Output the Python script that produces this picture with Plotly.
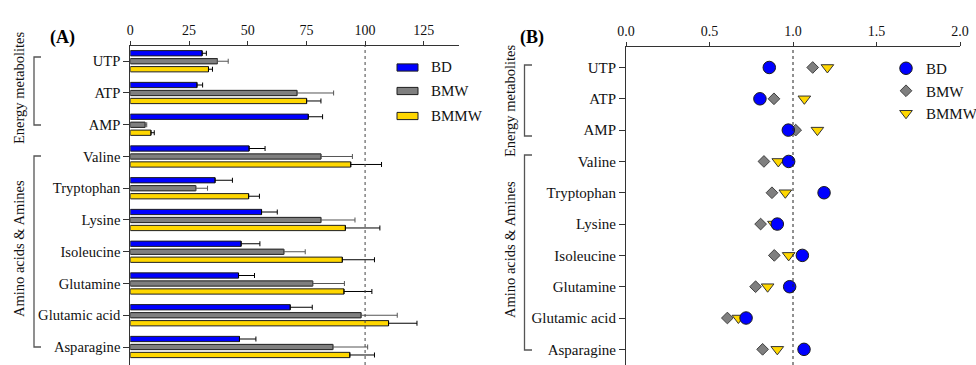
import plotly.graph_objects as go

# ---------------- data ----------------
categories = ["UTP", "ATP", "AMP", "Valine", "Tryptophan", "Lysine",
              "Isoleucine", "Glutamine", "Glutamic acid", "Asparagine"]
series_names = ["BD", "BMW", "BMMW"]

bd_pct = [30.6, 28.4, 75.8, 50.6, 36.1, 55.9, 47.2, 46.1, 68.1, 46.5]
bd_err = [1.8, 2.4, 6.1, 6.8, 7.4, 6.7, 8.0, 6.8, 9.4, 7.0]
bmw_pct = [37.1, 71.0, 6.3, 81.2, 27.9, 81.2, 65.4, 77.7, 98.3, 86.3]
bmw_err = [4.6, 15.6, 0.7, 13.4, 5.0, 14.5, 9.1, 13.5, 15.4, 14.8]
bmmw_pct = [33.3, 75.1, 8.8, 93.9, 50.4, 91.6, 90.3, 91.0, 110.0, 93.5]
bmmw_err = [1.7, 6.1, 1.4, 13.1, 4.6, 14.7, 13.7, 11.9, 12.1, 10.5]

bd_ratio = [0.858, 0.802, 0.972, 0.974, 1.186, 0.906, 1.056, 0.980, 0.719, 1.066]
bmw_ratio = [1.118, 0.886, 1.016, 0.826, 0.874, 0.806, 0.888, 0.776, 0.607, 0.818]
bmmw_ratio = [1.206, 1.068, 1.146, 0.912, 0.954, 0.886, 0.974, 0.848, 0.673, 0.906]

x_ticks_a = [0, 25, 50, 75, 100, 125]
x_ticks_b = [0.0, 0.5, 1.0, 1.5, 2.0]
ref_a = 100
ref_b = 1.0
group_labels = ["Energy metabolites", "Amino acids & Amines"]
panel_labels = ["(A)", "(B)"]

# ---------------- style ----------------
W, H = 976, 365
FONT = "Liberation Serif"
BLUE, GRAY, YELLOW = "#0000ff", "#7f7f7f", "#ffd700"
EDGE = "#1e1e1e"
AX = "#333333"


def px(x):
    return x / W


def py(y):
    return 1 - y / H


fig = go.Figure()

# ---- panel A bars ----
bar_specs = [(bd_pct, bd_err, BLUE, "#000000"),
             (bmw_pct, bmw_err, GRAY, "#555555"),
             (bmmw_pct, bmmw_err, YELLOW, "#000000")]
for name, (vals, errs, col, ecol) in zip(series_names, bar_specs):
    fig.add_trace(go.Bar(
        y=categories, x=vals, orientation="h", name=name,
        marker=dict(color=col, line=dict(color=EDGE, width=1)),
        error_x=dict(type="data", array=errs, arrayminus=[0] * len(errs),
                     symmetric=False, color=ecol, thickness=1, width=2.5),
        xaxis="x", yaxis="y", showlegend=False,
    ))

# ---- panel B markers (drawn BMW, BMMW, then BD on top) ----
fig.add_trace(go.Scatter(
    y=categories, x=bmw_ratio, mode="markers", name=series_names[1],
    marker=dict(symbol="diamond", size=9, color=GRAY, line=dict(color="#404040", width=1)),
    xaxis="x2", yaxis="y2", legend="legend2", legendrank=2, legendgroup="b"))
fig.add_trace(go.Scatter(
    y=categories, x=bmmw_ratio, mode="markers", name=series_names[2],
    marker=dict(symbol="triangle-down", size=11, color=YELLOW, line=dict(color="#333333", width=1)),
    xaxis="x2", yaxis="y2", legend="legend2", legendrank=3, legendgroup="c"))
fig.add_trace(go.Scatter(
    y=categories, x=bd_ratio, mode="markers", name=series_names[0],
    marker=dict(symbol="circle", size=12.5, color=BLUE, line=dict(color="#1a1a1a", width=1)),
    xaxis="x2", yaxis="y2", legend="legend2", legendrank=1, legendgroup="a"))

xtickfont = dict(family=FONT, size=14, color="#111111")

common_x = dict(side="top", ticks="outside", ticklen=4, tickwidth=1, tickcolor=AX,
                showline=True, linecolor=AX, linewidth=1, showgrid=False,
                zeroline=False, tickfont=xtickfont, fixedrange=True, automargin=False)
common_y = dict(type="category", categoryorder="array", categoryarray=categories,
                ticks="outside", ticklen=6, tickwidth=1, tickcolor=AX,
                showline=True, linecolor=AX, linewidth=1, showgrid=False,
                zeroline=False, fixedrange=True, automargin=False)

fig.update_layout(
    width=W, height=H, autosize=False,
    margin=dict(l=0, r=0, t=0, b=0, pad=0, autoexpand=False),
    paper_bgcolor="white", plot_bgcolor="white",
    font=dict(family=FONT),
    barmode="group", bargap=0.245, bargroupgap=0.34,
    xaxis=dict(domain=[px(130.3), px(459)], range=[0, 140], tickvals=x_ticks_a,
               anchor="y", **common_x),
    yaxis=dict(domain=[0, py(46)], range=[9.567, -0.48], anchor="x",
               tickfont=dict(family=FONT, size=14.6, color="#111111"), **common_y),
    xaxis2=dict(domain=[px(626), px(960)], range=[0, 2], tickvals=x_ticks_b,
                tickformat=".1f", anchor="y2", **common_x),
    yaxis2=dict(domain=[0, py(46.5)], range=[9.5, -0.67], anchor="x2",
                tickfont=dict(family=FONT, size=15, color="#111111"), **common_y),
    legend2=dict(x=px(886), y=py(52), xanchor="left", yanchor="top",
                 font=dict(family=FONT, size=15, color="#111111"),
                 bgcolor="rgba(0,0,0,0)", tracegroupgap=0, itemclick=False),
    showlegend=True,
    hovermode=False,
)

# reference lines
fig.add_shape(type="line", xref="x", yref="y domain", x0=ref_a, x1=ref_a, y0=0, y1=1,
              line=dict(color="#444444", width=1, dash="3px,3px"))
fig.add_shape(type="line", xref="x2", yref="y2 domain", x0=ref_b, x1=ref_b, y0=0, y1=1,
              line=dict(color="#222222", width=1, dash="3px,3px"))

# panel A legend keys (boxes) and labels
leg_a_y = [67.5, 91.0, 116.0]
for name, col, yy in zip(series_names, [BLUE, GRAY, YELLOW], leg_a_y):
    fig.add_shape(type="rect", xref="paper", yref="paper",
                  x0=px(397), x1=px(418), y0=py(yy - 3.6), y1=py(yy + 3.6),
                  fillcolor=col, line=dict(color=EDGE, width=1))
    fig.add_annotation(x=px(429), y=py(yy), xref="paper", yref="paper", text=name,
                       showarrow=False, xanchor="left", yanchor="middle",
                       font=dict(family=FONT, size=15, color="#111111"))

# group brackets
BR = "#555555"
brackets = [
    # (x_vertical, x_tick_end, y_top, y_bottom, text_x, text_y, label)
    (34, 41, 57, 125, 19, 88, group_labels[0]),
    (34, 41, 156, 347, 19, 249, group_labels[1]),
    (524.5, 532, 65, 136, 510, 101, group_labels[0]),
    (524.5, 532, 155, 350, 510, 250, group_labels[1]),
]
for xv, xt, yt, yb, tx, ty, lab in brackets:
    fig.add_shape(type="path", xref="paper", yref="paper",
                  path=f"M {px(xt)} {py(yt)} L {px(xv)} {py(yt)} L {px(xv)} {py(yb)} L {px(xt)} {py(yb)}",
                  line=dict(color=BR, width=1.3))
    fig.add_annotation(x=px(tx), y=py(ty), xref="paper", yref="paper", text=lab,
                       showarrow=False, textangle=-90, xanchor="center", yanchor="middle",
                       font=dict(family=FONT, size=14.5, color="#111111"))

# panel labels
for lab, xx in zip(panel_labels, [48, 532]):
    fig.add_annotation(x=px(xx), y=py(25), xref="paper", yref="paper",
                       text=f"<b>{lab}</b>", showarrow=False,
                       font=dict(family=FONT, size=18, color="#000000"))

fig.write_html("out.html", config={"displayModeBar": False},
               post_script="document.body.style.margin='0';document.body.style.overflow='hidden';")
